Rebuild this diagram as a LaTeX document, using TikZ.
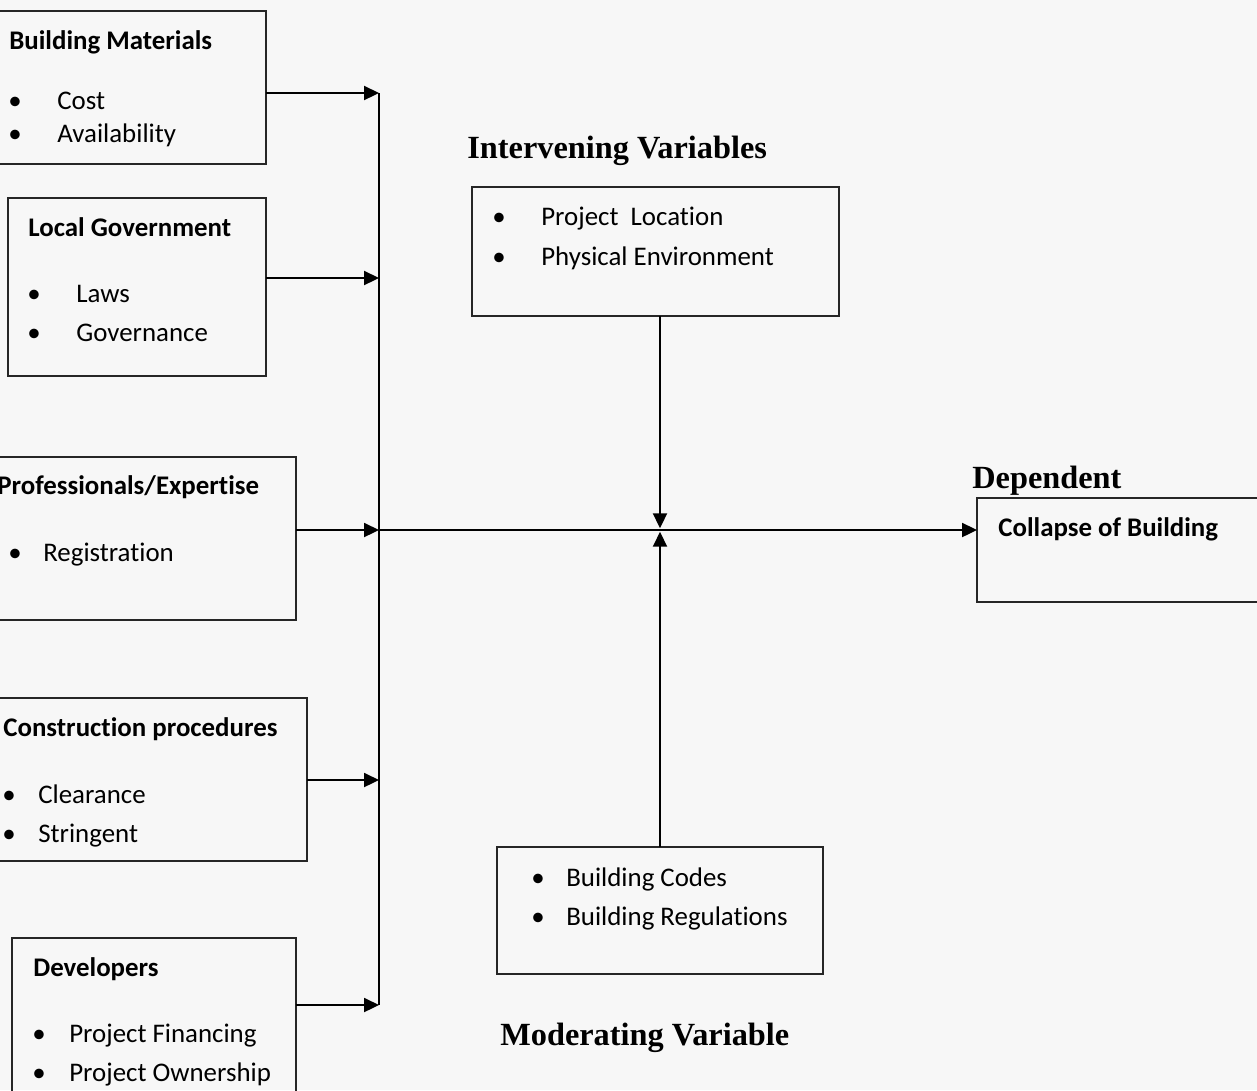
\documentclass[tikz,border=0pt]{standalone}
\usepackage{fontspec}
\setmainfont[Ligatures=NoCommon]{Carlito}
\newfontfamily\headfont{Liberation Serif}
\usetikzlibrary{arrows.meta, positioning}

\newcommand{\entry}[2]{\makebox[#1][l]{\textbullet}#2}

\begin{document}
\begin{tikzpicture}[
  x=0.02cm, y=-0.02cm,
  panel/.style={
    draw=black!85,
    line width=0.9pt,
    inner sep=0pt,
    outer sep=0pt
  },
  title/.style={
    anchor=west,
    inner sep=0pt,
    font=\fontsize{15.3}{18}\selectfont\bfseries,
    text height=13.5pt, text depth=3pt
  },
  item/.style={
    anchor=west,
    inner sep=0pt,
    font=\fontsize{15.3}{18}\selectfont,
    text height=13.5pt, text depth=3pt
  },
  heading/.style={
    anchor=west,
    inner sep=0pt,
    font=\headfont\fontsize{18.4}{22}\selectfont\bfseries,
    text height=16.6pt, text depth=4pt
  },
  arrow/.style={-{Triangle[length=8.5pt, width=8pt]}, line width=1pt, draw=black},
  bus/.style={line width=1pt, draw=black}
]
  \fill[black!3] (0,0) rectangle (1257,1090);
  \useasboundingbox (0,0) rectangle (1257,1090);

  % independent variables
  \node[panel, minimum width=5.36cm, minimum height=3.06cm] (bm) at (132,87.5) {};
  \node[title] (bmt) at (9,40) {Building Materials};
  \node[item] (bm1) at (8,100) {\entry{0.98cm}{Cost}};
  \node[item] (bm2) at (8,133) {\entry{0.98cm}{Availability}};

  \node[panel, minimum width=5.16cm, minimum height=3.56cm] (lg) at (137,287) {};
  \node[title] (lgt) at (28,227) {Local Government};
  \node[item] (lg1) at (27,293) {\entry{0.98cm}{Laws}};
  \node[item] (lg2) at (27,332) {\entry{0.98cm}{Governance}};

  \node[panel, minimum width=5.96cm, minimum height=3.26cm] (pe) at (147,538.5) {};
  \node[title] (pet) at (-3,485) {Professionals/Expertise};
  \node[item] (pe1) at (8,552) {\entry{0.7cm}{Registration}};

  \node[panel, minimum width=6.18cm, minimum height=3.26cm] (cp) at (152.5,779.5) {};
  \node[title] (cpt) at (3,727) {Construction procedures};
  \node[item] (cp1) at (2,794) {\entry{0.72cm}{Clearance}};
  \node[item] (cp2) at (2,833) {\entry{0.72cm}{Stringent}};

  \node[panel, minimum width=5.68cm, minimum height=3.24cm] (dv) at (154,1019) {};
  \node[title] (dvt) at (33,967) {Developers};
  \node[item] (dv1) at (32,1033) {\entry{0.74cm}{Project Financing}};
  \node[item] (dv2) at (32,1072) {\entry{0.74cm}{Project Ownership}};

  % intervening, moderating and dependent variables
  \node[heading] (ivh) at (467,147) {Intervening Variables};
  \node[panel, minimum width=7.34cm, minimum height=2.58cm] (iv) at (655.5,251.5) {};
  \node[item] (iv1) at (492,216) {\entry{0.98cm}{Project\ \ Location}};
  \node[item] (iv2) at (492,256) {\entry{0.98cm}{Physical Environment}};

  \node[panel, minimum width=6.52cm, minimum height=2.54cm] (mv) at (660,910.5) {};
  \node[item] (mv1) at (531,877) {\entry{0.7cm}{Building Codes}};
  \node[item] (mv2) at (531,916) {\entry{0.7cm}{Building Regulations}};
  \node[heading] (mvh) at (500,1034) {Moderating Variable};

  \node[heading] (deph) at (972,477) {Dependent};
  \node[panel, minimum width=5.7cm, minimum height=2.08cm] (dep) at (1119.5,550) {};
  \node[title] (dept) at (998,527) {Collapse of Building};

  % connectors
  \coordinate (j1) at (379,93);
  \coordinate (j2) at (379,278);
  \coordinate (j3) at (379,530);
  \coordinate (j4) at (379,780);
  \coordinate (j5) at (379,1005);
  \coordinate (hub) at (660,530);

  \draw[arrow] (bm.east |- j1) -- (j1);
  \draw[arrow] (lg.east |- j2) -- (j2);
  \draw[arrow] (pe.east |- j3) -- (j3);
  \draw[arrow] (cp.east |- j4) -- (j4);
  \draw[arrow] (dv.east |- j5) -- (j5);
  \draw[bus] (j1) -- (j5);
  \draw[arrow] (j3) -- (dep.west |- j3);
  \draw[arrow, shorten >=1pt] (iv.south -| hub) -- (hub);
  \draw[arrow, shorten >=1pt] (mv.north -| hub) -- (hub);
\end{tikzpicture}
\end{document}
